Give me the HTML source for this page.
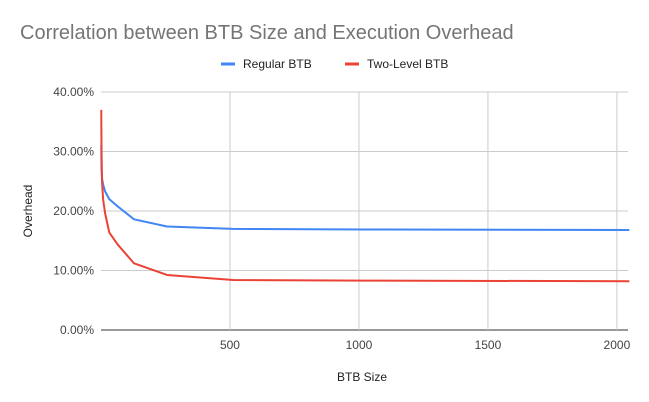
<!DOCTYPE html>
<html><head><meta charset="utf-8"><style>
body{margin:0;background:#fff}
svg{display:block;font-family:"Liberation Sans",Arial,sans-serif}
</style></head><body>
<svg id="chart" width="649" height="402">
<rect width="649" height="402" fill="#fff"/>
<text x="20" y="39" font-size="20" fill="#757575">Correlation between BTB Size and Execution Overhead</text>
<g>
<line x1="221" y1="64" x2="235" y2="64" stroke="#4285f4" stroke-width="3"/>
<text x="243" y="68" font-size="12" fill="#222">Regular BTB</text>
<line x1="345" y1="64" x2="359" y2="64" stroke="#ea4335" stroke-width="3"/>
<text x="367" y="68" font-size="12" fill="#222">Two-Level BTB</text>
</g>
<text transform="translate(32,211) rotate(-90)" text-anchor="middle" font-size="12" fill="#222">Overhead</text>
<text x="362" y="381" text-anchor="middle" font-size="12" fill="#222">BTB Size</text>
<g id="grid"></g><g id="series"></g>
</svg>
<script>
const sizes=[1,2,4,8,16,32,64,128,256,512,1024,2048];
const regular=[31,27,25.5,24.5,23.3,22,20.8,18.6,17.4,17.0,16.9,16.8];
const twoLevel=[37,30,25,22,19.6,16.4,14.4,11.2,9.25,8.4,8.3,8.2];
const yTicks=[0,10,20,30,40];
const yTickLabels=["0.00%","10.00%","20.00%","30.00%","40.00%"];
const xTicks=[500,1000,1500,2000];
const xTickLabels=["500","1000","1500","2000"];
const NS="http://www.w3.org/2000/svg";
const L=101,R=628,T=92,B=330,XMAX=2043,YMAX=40;
const xs=v=>L+(R-L)*v/XMAX, ys=v=>B-(B-T)*v/YMAX;
const g=document.getElementById('grid'),s=document.getElementById('series');
function mk(tag,at,par){const e=document.createElementNS(NS,tag);for(const k in at)e.setAttribute(k,at[k]);par.appendChild(e);return e;}
yTicks.forEach((v,i)=>{
 const l=mk('line',{x1:L,x2:R,y1:ys(v),y2:ys(v),stroke:v===0?'#333':'#ccc','stroke-width':1},g);
 
 
 const t=mk('text',{x:94,y:ys(v)+4,'text-anchor':'end','font-size':12,fill:'#444'},g);
 t.textContent=yTickLabels[i];
 
 
});
xTicks.forEach((v,i)=>{
 const l=mk('line',{x1:xs(v),x2:xs(v),y1:T,y2:B,stroke:'#ccc','stroke-width':1},g);
 
 
 const t=mk('text',{x:xs(v),y:349,'text-anchor':'middle','font-size':12,fill:'#444'},g);
 t.textContent=xTickLabels[i];
 
 
});
function line(vals,color,name){
 const p=mk('polyline',{points:sizes.map((x,i)=>xs(x)+','+ys(vals[i])).join(' '),fill:'none',stroke:color,'stroke-width':2,'stroke-linejoin':'round'},s);
 
 
}
line(regular,'#4285f4','regular-btb-line');
line(twoLevel,'#ea4335','two-level-btb-line');
</script>
</body></html>
